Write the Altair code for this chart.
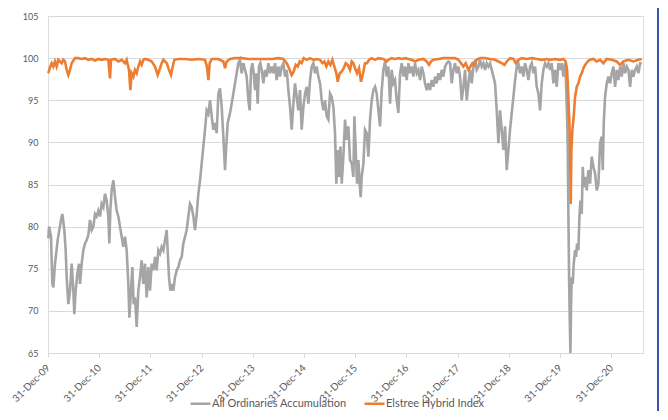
import altair as alt
import numpy as np
import pandas as pd

# ---- data (time as decimal year, 2010.0 = 31-Dec-09) ----
gray_t = [
    2010.007, 2010.020, 2010.059, 2010.085, 2010.104, 2010.137, 2010.189, 2010.254, 2010.280, 2010.319,
    2010.345, 2010.365, 2010.397, 2010.430, 2010.462, 2010.495, 2010.514, 2010.540, 2010.573, 2010.605,
    2010.625, 2010.658, 2010.690, 2010.723, 2010.755, 2010.788, 2010.820, 2010.853, 2010.885, 2010.918,
    2010.950, 2010.983, 2011.016, 2011.048, 2011.081, 2011.113, 2011.146, 2011.178, 2011.198, 2011.217,
    2011.243, 2011.276, 2011.309, 2011.341, 2011.374, 2011.406, 2011.439, 2011.471, 2011.504, 2011.536,
    2011.569, 2011.589, 2011.621, 2011.647, 2011.673, 2011.699, 2011.732, 2011.764, 2011.797, 2011.829,
    2011.862, 2011.895, 2011.927, 2011.960, 2011.992, 2012.025, 2012.057, 2012.090, 2012.122, 2012.155,
    2012.188, 2012.220, 2012.253, 2012.285, 2012.318, 2012.337, 2012.363, 2012.389, 2012.415, 2012.448,
    2012.480, 2012.513, 2012.546, 2012.578, 2012.611, 2012.643, 2012.676, 2012.708, 2012.741, 2012.773,
    2012.806, 2012.839, 2012.871, 2012.904, 2012.936, 2012.969, 2013.001, 2013.034, 2013.066, 2013.099,
    2013.132, 2013.164, 2013.197, 2013.229, 2013.262, 2013.294, 2013.327, 2013.359, 2013.392, 2013.424,
    2013.457, 2013.477, 2013.509, 2013.555, 2013.587, 2013.620, 2013.652, 2013.685, 2013.717, 2013.750,
    2013.782, 2013.815, 2013.848, 2013.880, 2013.913, 2013.939, 2013.965, 2013.991, 2014.017, 2014.043,
    2014.069, 2014.095, 2014.121, 2014.147, 2014.173, 2014.206, 2014.238, 2014.271, 2014.303, 2014.336,
    2014.368, 2014.401, 2014.434, 2014.466, 2014.499, 2014.531, 2014.564, 2014.596, 2014.629, 2014.661,
    2014.694, 2014.727, 2014.759, 2014.792, 2014.824, 2014.857, 2014.889, 2014.922, 2014.954, 2014.987,
    2015.020, 2015.052, 2015.085, 2015.117, 2015.150, 2015.182, 2015.215, 2015.247, 2015.280, 2015.313,
    2015.345, 2015.378, 2015.410, 2015.443, 2015.475, 2015.508, 2015.540, 2015.573, 2015.605, 2015.631,
    2015.658, 2015.684, 2015.710, 2015.736, 2015.768, 2015.801, 2015.833, 2015.866, 2015.898, 2015.931,
    2015.964, 2015.983, 2016.009, 2016.035, 2016.061, 2016.087, 2016.107, 2016.126, 2016.159, 2016.191,
    2016.224, 2016.257, 2016.289, 2016.322, 2016.354, 2016.387, 2016.419, 2016.452, 2016.484, 2016.517,
    2016.549, 2016.582, 2016.615, 2016.647, 2016.680, 2016.712, 2016.745, 2016.777, 2016.810, 2016.842,
    2016.875, 2016.908, 2016.940, 2016.973, 2017.005, 2017.038, 2017.070, 2017.103, 2017.135, 2017.168,
    2017.201, 2017.233, 2017.266, 2017.298, 2017.331, 2017.363, 2017.396, 2017.428, 2017.461, 2017.493,
    2017.526, 2017.559, 2017.591, 2017.624, 2017.656, 2017.689, 2017.721, 2017.754, 2017.786, 2017.819,
    2017.852, 2017.884, 2017.917, 2017.949, 2017.982, 2018.014, 2018.047, 2018.079, 2018.112, 2018.145,
    2018.177, 2018.210, 2018.242, 2018.275, 2018.307, 2018.340, 2018.372, 2018.405, 2018.438, 2018.470,
    2018.503, 2018.535, 2018.568, 2018.600, 2018.633, 2018.665, 2018.698, 2018.730, 2018.763, 2018.796,
    2018.828, 2018.861, 2018.893, 2018.926, 2018.958, 2018.991, 2019.023, 2019.056, 2019.089, 2019.121,
    2019.154, 2019.186, 2019.219, 2019.251, 2019.284, 2019.316, 2019.349, 2019.382, 2019.414, 2019.447,
    2019.479, 2019.512, 2019.544, 2019.577, 2019.609, 2019.642, 2019.674, 2019.707, 2019.740, 2019.772,
    2019.805, 2019.837, 2019.870, 2019.902, 2019.935, 2019.967, 2020.000, 2020.033, 2020.065, 2020.098,
    2020.117, 2020.137, 2020.150, 2020.163, 2020.176, 2020.189, 2020.202, 2020.215, 2020.228, 2020.247,
    2020.267, 2020.293, 2020.313, 2020.332, 2020.358, 2020.378, 2020.397, 2020.423, 2020.443, 2020.462,
    2020.488, 2020.521, 2020.553, 2020.586, 2020.618, 2020.651, 2020.684, 2020.716, 2020.749, 2020.781,
    2020.814, 2020.833, 2020.853, 2020.879, 2020.911, 2020.944, 2020.977, 2021.009, 2021.042, 2021.074,
    2021.107, 2021.139, 2021.172, 2021.204, 2021.237, 2021.270, 2021.302, 2021.335, 2021.367, 2021.400,
    2021.432, 2021.465, 2021.497, 2021.530, 2021.563, 2021.595,
]
gray_v = [
    78.6, 80.0, 78.8, 73.2, 72.8, 75.6, 78.4, 80.8, 81.5, 79.6,
    77.2, 74.0, 70.8, 72.4, 75.6, 72.4, 69.6, 72.4, 74.4, 75.6,
    73.2, 75.6, 77.2, 78.0, 78.4, 79.0, 80.8, 79.6, 80.0, 81.5,
    81.2, 81.9, 81.2, 82.7, 82.3, 83.9, 83.1, 81.2, 78.0, 81.9,
    84.3, 85.5, 83.5, 81.9, 81.2, 80.0, 78.8, 77.6, 78.8, 77.2,
    73.2, 69.2, 72.4, 75.2, 70.8, 71.6, 68.1, 72.4, 74.0, 76.0,
    73.2, 75.6, 71.6, 75.2, 72.4, 75.6, 74.8, 76.4, 74.8, 77.2,
    76.8, 77.6, 77.2, 78.4, 79.6, 77.2, 74.0, 72.4, 73.2, 72.4,
    74.0, 74.8, 75.2, 76.0, 76.4, 78.0, 78.8, 79.6, 81.2, 82.7,
    82.3, 81.2, 79.6, 81.5, 83.9, 85.5, 87.5, 89.5, 91.5, 93.8,
    93.4, 95.0, 93.1, 91.5, 92.3, 91.1, 95.8, 96.4, 94.2, 90.7,
    86.7, 89.1, 92.3, 93.5, 94.6, 95.8, 97.0, 98.2, 99.4, 99.8,
    98.2, 99.4, 98.6, 97.8, 95.0, 93.8, 98.6, 99.4, 98.2, 96.2,
    98.2, 94.6, 99.0, 99.4, 98.6, 97.0, 98.6, 97.8, 99.4, 98.2,
    99.0, 98.2, 99.4, 97.4, 99.0, 97.8, 99.0, 99.4, 97.8, 98.6,
    96.2, 94.2, 91.5, 94.6, 97.0, 95.4, 93.8, 96.2, 91.5, 94.2,
    95.8, 96.6, 94.6, 97.4, 99.0, 99.4, 98.2, 99.0, 97.8, 97.0,
    95.0, 93.8, 95.0, 93.1, 92.7, 95.8, 95.4, 94.2, 91.1, 85.1,
    89.1, 85.9, 89.5, 85.1, 88.3, 92.7, 90.3, 91.9, 87.9, 87.5,
    85.9, 93.1, 89.1, 85.1, 87.9, 85.1, 83.5, 85.9, 87.5, 91.5,
    91.1, 88.3, 92.7, 95.0, 96.2, 96.6, 95.8, 93.8, 91.9, 96.2,
    98.6, 99.6, 97.8, 99.0, 94.6, 98.6, 97.0, 97.4, 95.0, 93.5,
    98.2, 99.4, 97.8, 99.0, 97.4, 99.4, 98.2, 99.0, 97.8, 99.4,
    98.2, 98.6, 97.4, 99.0, 98.2, 97.0, 96.2, 97.0, 96.2, 97.4,
    96.6, 97.8, 97.0, 98.2, 97.4, 98.6, 97.8, 99.0, 99.4, 99.6,
    99.4, 97.0, 98.6, 99.4, 98.2, 99.0, 97.8, 95.0, 96.6, 98.6,
    95.0, 97.0, 98.6, 97.0, 99.0, 99.8, 98.6, 99.0, 99.8, 99.0,
    99.4, 98.6, 99.4, 99.0, 99.4, 98.6, 97.8, 97.0, 93.8, 89.9,
    93.8, 91.5, 89.1, 91.9, 86.7, 89.1, 91.5, 93.5, 95.4, 97.4,
    99.0, 99.4, 98.2, 99.0, 97.8, 99.4, 98.6, 97.4, 99.0, 99.4,
    98.2, 99.0, 96.6, 95.8, 93.8, 97.0, 98.6, 99.4, 99.0, 99.4,
    98.6, 99.4, 97.0, 98.6, 96.6, 99.4, 98.6, 99.4, 97.8, 99.4,
    97.0, 93.1, 89.5, 81.2, 74.0, 69.2, 65.0, 70.8, 74.0, 73.2,
    75.6, 77.2, 76.4, 78.0, 77.2, 81.2, 83.1, 81.5, 87.1, 84.7,
    85.9, 84.3, 86.7, 85.1, 88.3, 87.1, 86.3, 84.3, 85.1, 89.9,
    90.7, 86.7, 92.3, 95.4, 97.0, 97.8, 97.0, 98.2, 99.0, 96.6,
    98.6, 97.4, 99.0, 97.8, 99.4, 98.2, 99.0, 98.6, 96.6, 98.6,
    97.8, 98.6, 99.0, 98.2, 99.4, 99.4,
]

orange_t = [
    2010.007, 2010.033, 2010.072, 2010.104, 2010.137, 2010.169, 2010.202, 2010.267, 2010.299, 2010.332,
    2010.365, 2010.397, 2010.430, 2010.462, 2010.527, 2010.592, 2010.658, 2010.723, 2010.788, 2010.853,
    2010.918, 2010.983, 2011.048, 2011.113, 2011.178, 2011.211, 2011.230, 2011.309, 2011.374, 2011.439,
    2011.504, 2011.536, 2011.582, 2011.608, 2011.634, 2011.667, 2011.699, 2011.732, 2011.764, 2011.797,
    2011.829, 2011.862, 2011.895, 2011.960, 2012.025, 2012.090, 2012.142, 2012.188, 2012.220, 2012.253,
    2012.285, 2012.318, 2012.363, 2012.402, 2012.428, 2012.467, 2012.546, 2012.676, 2012.806, 2012.936,
    2013.066, 2013.105, 2013.132, 2013.158, 2013.197, 2013.327, 2013.424, 2013.457, 2013.490, 2013.555,
    2013.652, 2013.782, 2013.913, 2013.978, 2014.108, 2014.238, 2014.368, 2014.499, 2014.596, 2014.661,
    2014.707, 2014.759, 2014.798, 2014.837, 2014.876, 2014.915, 2014.954, 2014.993, 2015.052, 2015.117,
    2015.182, 2015.247, 2015.313, 2015.358, 2015.397, 2015.436, 2015.475, 2015.514, 2015.553, 2015.592,
    2015.631, 2015.658, 2015.697, 2015.736, 2015.775, 2015.814, 2015.853, 2015.898, 2015.931, 2015.964,
    2015.996, 2016.035, 2016.074, 2016.113, 2016.152, 2016.191, 2016.230, 2016.270, 2016.322, 2016.387,
    2016.452, 2016.549, 2016.615, 2016.647, 2016.712, 2016.777, 2016.842, 2016.908, 2016.973, 2017.038,
    2017.103, 2017.168, 2017.233, 2017.331, 2017.396, 2017.441, 2017.480, 2017.526, 2017.624, 2017.721,
    2017.819, 2017.884, 2017.949, 2018.014, 2018.066, 2018.112, 2018.158, 2018.210, 2018.249, 2018.288,
    2018.327, 2018.372, 2018.438, 2018.535, 2018.633, 2018.730, 2018.796, 2018.861, 2018.913, 2018.958,
    2019.023, 2019.089, 2019.134, 2019.186, 2019.251, 2019.349, 2019.447, 2019.544, 2019.642, 2019.740,
    2019.805, 2019.902, 2020.000, 2020.065, 2020.111, 2020.137, 2020.156, 2020.176, 2020.195, 2020.208,
    2020.221, 2020.241, 2020.267, 2020.293, 2020.326, 2020.358, 2020.391, 2020.423, 2020.456, 2020.488,
    2020.540, 2020.586, 2020.651, 2020.716, 2020.781, 2020.846, 2020.911, 2021.009, 2021.107, 2021.172,
    2021.237, 2021.335, 2021.432, 2021.530, 2021.595,
]
orange_v = [
    98.2, 98.8, 99.4, 99.0, 99.6, 99.0, 99.8, 99.4, 99.8, 99.6,
    98.6, 98.0, 98.6, 99.4, 100.0, 100.0, 99.9, 100.0, 99.8, 99.9,
    99.7, 99.9, 99.8, 99.9, 99.8, 97.6, 99.8, 99.9, 99.6, 99.8,
    99.4, 99.8, 98.6, 96.2, 98.2, 97.8, 98.6, 98.2, 99.0, 99.6,
    99.2, 99.8, 99.9, 99.8, 99.6, 99.0, 98.0, 98.8, 99.4, 99.8,
    99.6, 99.4, 98.6, 98.0, 98.8, 99.8, 99.9, 99.9, 99.8, 99.9,
    99.8, 99.0, 97.4, 99.4, 99.9, 99.9, 99.6, 98.8, 99.6, 99.9,
    100.0, 100.0, 99.9, 99.9, 99.9, 99.9, 99.9, 100.0, 99.9, 99.4,
    98.8, 98.0, 98.4, 99.2, 99.0, 99.6, 99.4, 100.0, 99.8, 100.0,
    99.8, 99.9, 99.8, 99.4, 99.6, 99.0, 99.6, 99.2, 99.8, 99.0,
    98.2, 97.2, 98.2, 98.4, 98.8, 99.4, 99.2, 98.6, 99.6, 99.4,
    98.8, 98.2, 98.8, 97.2, 98.2, 99.4, 99.4, 99.8, 100.0, 99.8,
    100.0, 99.9, 99.6, 99.8, 100.0, 99.9, 100.0, 99.9, 100.0, 99.9,
    99.8, 99.6, 99.8, 99.9, 99.6, 99.2, 99.6, 99.8, 99.9, 100.0,
    100.0, 100.0, 100.0, 99.8, 99.4, 99.0, 99.4, 98.6, 99.0, 99.4,
    99.2, 99.8, 100.0, 100.0, 99.9, 99.8, 99.6, 99.4, 99.2, 99.6,
    100.0, 99.9, 99.4, 99.8, 100.0, 99.9, 100.0, 99.9, 99.8, 99.9,
    99.8, 99.9, 99.8, 99.9, 99.6, 98.6, 96.2, 93.1, 89.9, 82.7,
    89.1, 91.5, 93.1, 95.4, 96.6, 97.0, 97.8, 98.2, 98.8, 99.2,
    99.6, 99.8, 99.9, 99.6, 99.8, 99.4, 99.9, 99.8, 99.6, 99.2,
    99.6, 99.8, 99.6, 99.8, 99.9,
]

series_names = ["All Ordinaries Accumulation", "Elstree Hybrid Index"]
series_colors = ["#a5a5a5", "#ed7d31"]
tick_years = list(range(2009, 2021))
y_ticks = list(range(65, 106, 5))


def to_dates(t):
    base = pd.Timestamp("2009-12-31")
    return base + pd.to_timedelta((np.array(t) - 2010.0) * 365.25, unit="D")


gray_df = pd.DataFrame({"date": to_dates(gray_t), "value": gray_v, "series": series_names[0]})
orange_df = pd.DataFrame({"date": to_dates(orange_t), "value": orange_v, "series": series_names[1]})

FONT = "Lato"
LABEL_COLOR = "#595959"
GRID = "#d9d9d9"

x_enc = alt.X(
    "date:T",
    title=None,
    scale=alt.Scale(domain=[alt.DateTime(year=2009, month=12, date=31),
                            alt.DateTime(year=2021, month=8, date=14)]),
    axis=alt.Axis(
        values=[alt.DateTime(year=y, month=12, date=31) for y in tick_years],
        format="%d-%b-%y",
        labelAngle=-45,
        labelAlign="right",
        labelBaseline="middle",
        labelFontSize=10,
        labelColor=LABEL_COLOR,
        labelFont=FONT,
        labelPadding=9,
        domainColor=GRID,
        tickColor=GRID,
        tickSize=4,
        grid=False,
    ),
)
y_enc = alt.Y(
    "value:Q",
    title=None,
    scale=alt.Scale(domain=[65, 105], nice=False, zero=False),
    axis=alt.Axis(
        values=y_ticks,
        grid=True,
        gridColor=GRID,
        domain=False,
        ticks=False,
        labelPadding=10,
        labelFontSize=9,
        labelColor=LABEL_COLOR,
        labelFont=FONT,
    ),
)
color_enc = alt.Color(
    "series:N",
    scale=alt.Scale(domain=series_names, range=series_colors),
    legend=alt.Legend(
        title=None,
        orient="none",
        direction="horizontal",
        legendX=141,
        legendY=376,
        symbolType="stroke",
        symbolSize=400,
        symbolStrokeWidth=2.5,
        labelFont=FONT,
        labelFontSize=11,
        labelColor=LABEL_COLOR,
        labelOffset=0,
        columnPadding=12,
    ),
)

gray_line = alt.Chart(gray_df).mark_line(strokeWidth=2.6, interpolate="linear").encode(
    x=x_enc, y=y_enc, color=color_enc
)
orange_line = alt.Chart(orange_df).mark_line(strokeWidth=2.6, interpolate="linear").encode(
    x=x_enc, y=y_enc, color=color_enc
)
frame = alt.Chart(pd.DataFrame({"k": [0]})).mark_rule(color="#3a55a8", strokeWidth=2).encode(
    x=alt.value(610), y=alt.value(-8), y2=alt.value(395)
)

chart = alt.layer(gray_line, orange_line, frame).properties(
    width=595,
    height=337,
    padding={"left": 40, "top": 8, "right": 17, "bottom": 58},
    autosize=alt.AutoSizeParams(type="none"),
).configure_view(stroke=None).configure(background="white")

chart.save("out.html", embed_options={"renderer": "svg", "actions": False})
